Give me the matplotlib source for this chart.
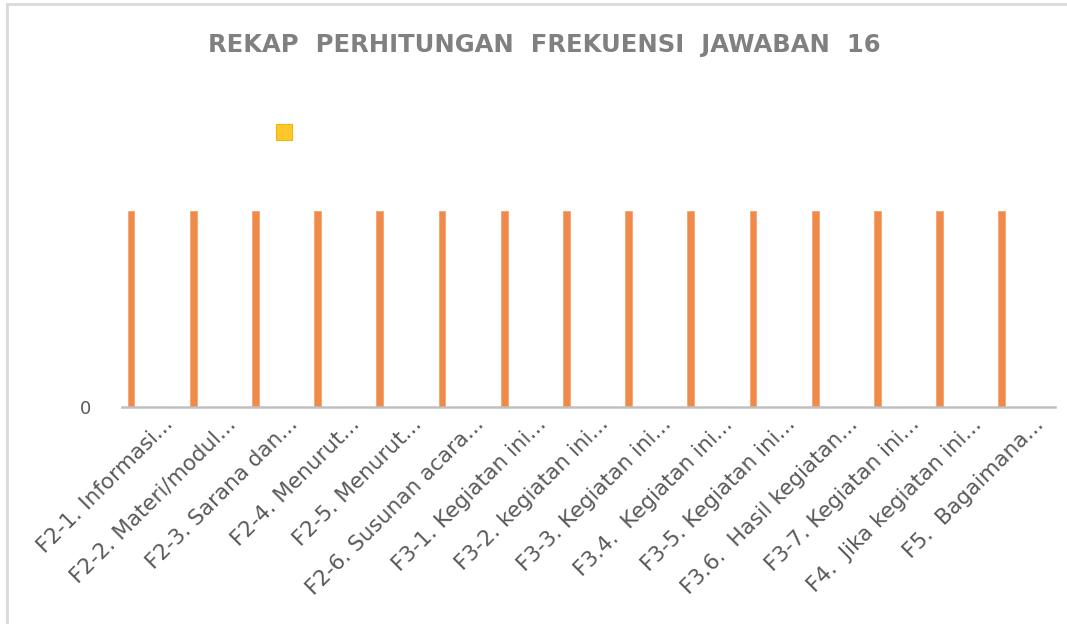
import matplotlib
matplotlib.use("Agg")
import matplotlib.pyplot as plt
from matplotlib.lines import Line2D
import matplotlib.transforms as mtransforms
import numpy as np

labels = ["F2-1. Informasi...", "F2-2. Materi/modul...", "F2-3. Sarana dan...",
          "F2-4. Menurut...", "F2-5. Menurut...", "F2-6. Susunan acara...",
          "F3-1. Kegiatan ini...", "F3-2. kegiatan ini...", "F3-3. Kegiatan ini...",
          "F3.4.  Kegiatan ini...", "F3-5. Kegiatan ini...", "F3.6.  Hasil kegiatan...",
          "F3-7. Kegiatan ini...", "F4.  Jika kegiatan ini...", "F5.  Bagaimana..."]
orange_vals = [1, 1, 1, 1, 1, 1, 1, 1, 1, 1, 1, 1, 1, 1, 1]
yellow_idx = [2]
yellow_vals = [1.4]

fig = plt.figure(figsize=(10.67, 6.24), dpi=100)
ax = fig.add_axes([0.1143, 0.3478, 0.8745, 0.5032])

x = np.arange(len(labels))
ax.bar(x - 0.355, orange_vals, width=0.11, color="#F08A4B", edgecolor="#F5A370", linewidth=0.6, zorder=2)
ax.scatter(np.array(yellow_idx) + 0.105, yellow_vals, marker="s", s=130,
           color="#FFC72C", edgecolors="#F2B705", linewidths=0.8, zorder=3)

ax.set_xlim(-0.5, len(labels) - 0.5)
ax.set_ylim(0, 1.6)
for s in ["top", "right", "left"]:
    ax.spines[s].set_visible(False)
ax.spines["bottom"].set_color("#BFBFBF")
ax.spines["bottom"].set_linewidth(1.8)
ax.set_yticks([0])
ax.set_yticklabels(["0"], fontsize=13, color="#595959")
ax.tick_params(axis="y", length=0, pad=22)
ax.set_xticks(x)
ax.tick_params(axis="x", length=0, pad=10)
ax.set_xticklabels(labels, rotation=45, ha="right", va="center",
                   rotation_mode="anchor", fontsize=15.5, color="#595959")
# shift the labels right after tick_params, which resets transforms
offset = mtransforms.ScaledTranslation(0.17, 0.0, fig.dpi_scale_trans)
for t in ax.get_xticklabels():
    t.set_transform(t.get_transform() + offset)

fig.text(0.51, 0.928, "REKAP  PERHITUNGAN  FREKUENSI  JAWABAN  16", ha="center", va="center",
         fontsize=17.5, fontweight="bold", color="#808080")

fig.add_artist(Line2D([0.0066, 0.0066], [0, 0.994], transform=fig.transFigure, color="#D9D9D9", lw=2))
fig.add_artist(Line2D([0.0066, 1], [0.994, 0.994], transform=fig.transFigure, color="#D9D9D9", lw=2))

fig.savefig("out.png", dpi=100)
